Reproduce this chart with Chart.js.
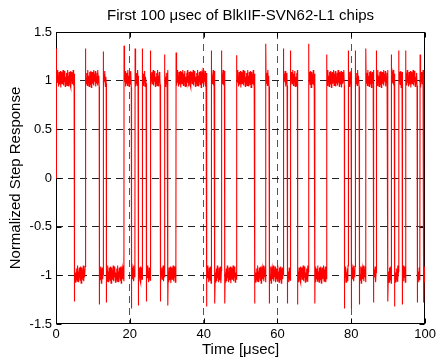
<!DOCTYPE html>
<html>
<head>
<meta charset="utf-8">
<script src="https://cdn.jsdelivr.net/npm/chart.js@4.4.1/dist/chart.umd.min.js"></script>
<style>
  html, body { margin: 0; padding: 0; background: #fff; }
  #wrap { width: 439px; height: 361px; }
</style>
</head>
<body>
<div id="wrap"><canvas id="chipChart"></canvas></div>
<script>
// Chip edges (usec); the level toggles at each one, starting high
const edgeTimes = [
  4.9, 7.9, 11.7, 12.8, 13.6, 18.4, 20.4, 21.4, 22.3, 23.3,
  24.4, 25.5, 28.2, 29.4, 30.3, 32.5, 40.8, 42.0, 43.0, 44.8,
  45.7, 48.9, 53.8, 56.8, 57.7, 61.6, 62.6, 63.5, 65.4, 68.4,
  70.1, 73.3, 78.1, 79.1, 80.0, 81.0, 82.1, 83.9, 86.0, 86.7,
  89.9, 90.8, 91.7, 92.8, 93.8, 94.7, 97.8, 98.6, 99.6
];
// Overshoot size at each edge (absolute value of the spike tip)
const edgePeaks = [
  1.27, 1.33, 1.30, 1.30, 1.28, 1.36, 1.34, 1.33, 1.31, 1.33,
  1.27, 1.31, 1.27, 1.27, 1.31, 1.29, 1.32, 1.31, 1.29, 1.31,
  1.29, 1.26, 1.29, 1.38, 1.29, 1.33, 1.29, 1.31, 1.30, 1.38,
  1.29, 1.27, 1.34, 1.31, 1.34, 1.31, 1.30, 1.33, 1.28, 1.31,
  1.27, 1.27, 1.32, 1.31, 1.30, 1.31, 1.28, 1.27, 1.28
];
const startLevel = 1;
const highLevel = 1.02;
const lowLevel = -0.99;
// Receiver noise on the flat parts, estimated from the band thickness
const ripple = [
  0.06, -0.07, 0.09, -0.04, 0.03, -0.08, 0.07, 0.01, -0.06, 0.08,
  -0.09, 0.04, 0.07, -0.05, 0.00, 0.09, -0.07, 0.05, -0.03, 0.08,
  -0.08, 0.02, -0.05
];
const xTicks = [0, 20, 40, 60, 80, 100];
const yTicks = [-1.5, -1, -0.5, 0, 0.5, 1, 1.5];

// Build the trace from the edges
function buildTrace() {
  const pts = [{ x: 0, y: 0 }, { x: 0.03, y: 1.33 }];
  const bounds = [0, ...edgeTimes, 100];
  let level = startLevel;
  let k = 0;
  for (let i = 0; i < bounds.length - 1; i++) {
    const t0 = bounds[i];
    const t1 = bounds[i + 1];
    const base = level > 0 ? highLevel : lowLevel;
    if (i > 0) {
      pts.push({ x: t0 + 0.03, y: level * edgePeaks[i - 1] });
    }
    for (let t = t0 + 0.1; t < t1 - 0.04; t += 0.12) {
      pts.push({ x: t, y: base + ripple[k % ripple.length] });
      k++;
    }
    pts.push({ x: t1, y: base + ripple[k % ripple.length] });
    k++;
    level = -level;
  }
  return pts;
}

// Box frame with inward ticks, Matlab style
const boxFrame = {
  id: "boxFrame",
  beforeDatasetsDraw(chart) {
    const { ctx, chartArea: a, scales } = chart;
    const l = Math.round(a.left) + 0.5;
    const r = Math.round(a.right) - 0.5;
    const t = Math.round(a.top) + 0.5;
    const b = Math.round(a.bottom) - 0.5;
    ctx.save();
    ctx.strokeStyle = "#000";
    ctx.lineWidth = 1;
    ctx.setLineDash([]);
    ctx.beginPath();
    xTicks.forEach((v) => {
      const px = Math.round(scales.x.getPixelForValue(v)) + 0.5;
      ctx.moveTo(px, b);
      ctx.lineTo(px, b - 5);
      ctx.moveTo(px, t);
      ctx.lineTo(px, t + 5);
    });
    yTicks.forEach((v) => {
      const py = Math.round(scales.y.getPixelForValue(v)) + 0.5;
      ctx.moveTo(l, py);
      ctx.lineTo(l + 5, py);
      ctx.moveTo(r, py);
      ctx.lineTo(r - 5, py);
    });
    ctx.stroke();
    ctx.strokeRect(l, t, r - l, b - t);
    ctx.restore();
  },
};

const fontFamily = "'Liberation Sans', Arial, Helvetica, sans-serif";
Chart.defaults.font.family = fontFamily;
Chart.defaults.color = "#000";

const chipChart = new Chart(document.getElementById("chipChart"), {
  type: "line",
  data: {
    datasets: [
      {
        data: buildTrace(),
        borderColor: "#ff0000",
        borderWidth: 1.1,
        pointRadius: 0,
        tension: 0,
        fill: false,
      },
    ],
  },
  options: {
    responsive: true,
    maintainAspectRatio: false,
    animation: false,
    devicePixelRatio: 1,
    layout: { padding: { left: 0, right: 11, top: 0, bottom: 0 } },
    plugins: {
      legend: { display: false },
      tooltip: { enabled: false },
      title: {
        display: true,
        fullSize: false,
        text: "First 100 \u03bcsec of BlkIIF-SVN62-L1 chips",
        color: "#000",
        font: { size: 15, weight: "normal" },
        padding: { top: 7, bottom: 7 },
      },
    },
    scales: {
      x: {
        type: "linear",
        min: 0,
        max: 100,
        afterBuildTicks: (scale) => {
          scale.ticks = xTicks.map((v) => ({ value: v }));
        },
        ticks: { font: { size: 13 }, color: "#000", padding: 3, maxRotation: 0 },
        grid: {
          drawTicks: false,
          color: (c) => (c.tick && (c.tick.value === 0 || c.tick.value === 100) ? "rgba(0,0,0,0)" : "#555"),
        },
        border: { display: false, dash: [7, 5] },
        title: {
          display: true,
          text: "Time [\u03bcsec]",
          font: { size: 15 },
          color: "#000",
          padding: { top: 0, bottom: 2 },
        },
        afterFit: (scale) => {
          scale.height = 37;
        },
      },
      y: {
        type: "linear",
        min: -1.5,
        max: 1.5,
        afterBuildTicks: (scale) => {
          scale.ticks = yTicks.map((v) => ({ value: v }));
        },
        ticks: { font: { size: 13 }, color: "#000", padding: 4, callback: (v) => String(v) },
        grid: {
          drawTicks: false,
          color: (c) => (c.tick && Math.abs(c.tick.value) > 1.4 ? "rgba(0,0,0,0)" : "#222"),
        },
        border: { display: false, dash: [7, 5] },
        title: {
          display: true,
          text: "Normalized Step Response",
          font: { size: 15 },
          color: "#000",
          padding: { top: 7, bottom: 0 },
        },
        afterFit: (scale) => {
          scale.width = 56;
        },
      },
    },
  },
  plugins: [boxFrame],
});
</script>
</body>
</html>
